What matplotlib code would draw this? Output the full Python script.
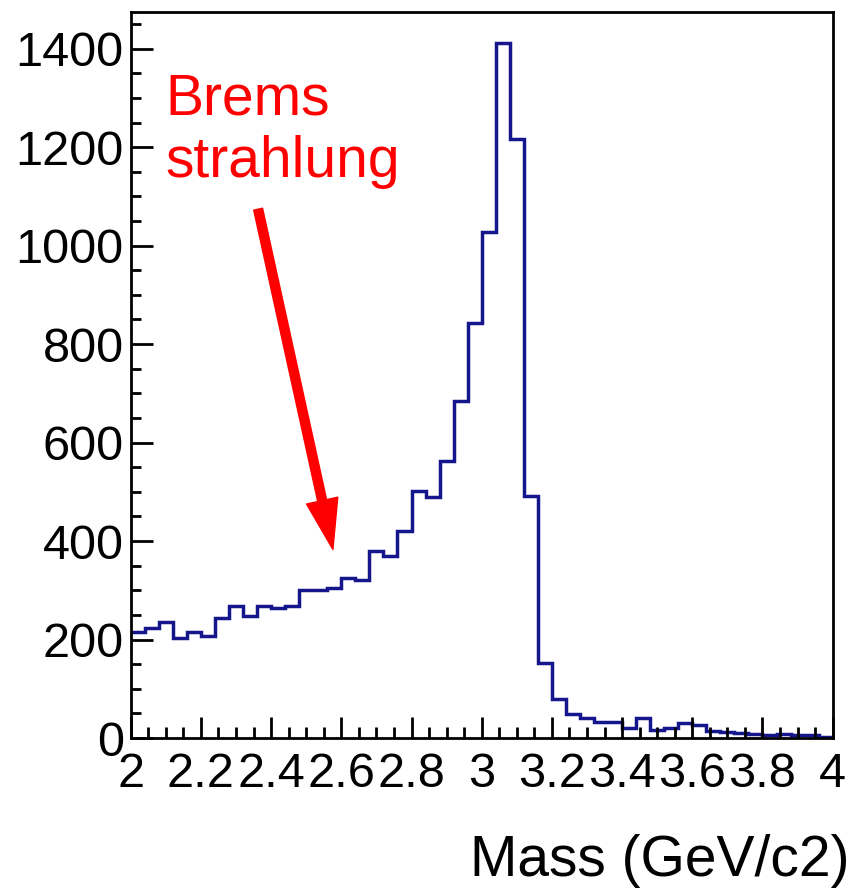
import numpy as np
import matplotlib
matplotlib.use("Agg")
import matplotlib.pyplot as plt
from matplotlib.ticker import MultipleLocator, FormatStrFormatter

plt.rcParams['font.family'] = ['Liberation Sans', 'DejaVu Sans']

# histogram: 50 bins from 2 to 4 GeV/c2
mass_lo = 2.0
mass_hi = 4.0
nbins = 50
counts = [215, 223, 235, 203, 215, 207, 243, 269, 247, 269,
          265, 269, 300, 300, 304, 325, 321, 380, 369, 421,
          501, 489, 563, 685, 842, 1028, 1411, 1216, 491, 152,
          79, 48, 40, 33, 32, 21, 41, 17, 21, 30,
          26, 15, 13, 10, 8, 7, 9, 6, 7, 3]
edges = np.linspace(mass_lo, mass_hi, nbins + 1)

label_text = "Brems\nstrahlung"
xlabel_text = "Mass (GeV/c2)"

fig = plt.figure(figsize=(8.55, 8.88), dpi=100)
ax = fig.add_axes([0.1529, 0.1689, 0.8210, 0.8176])

ax.stairs(counts, edges, baseline=None, color='#16168c', linewidth=2.5)

ax.set_xlim(mass_lo, mass_hi)
ax.set_ylim(0, 1.045 * max(counts))

ax.xaxis.set_major_locator(MultipleLocator(0.2))
ax.xaxis.set_minor_locator(MultipleLocator(0.05))
ax.xaxis.set_major_formatter(FormatStrFormatter('%g'))
ax.yaxis.set_major_locator(MultipleLocator(200))
ax.yaxis.set_minor_locator(MultipleLocator(50))

ax.tick_params(axis='both', which='both', direction='in', width=2,
               color='black', labelsize=35)
ax.tick_params(axis='x', which='major', length=15, pad=10)
ax.tick_params(axis='x', which='minor', length=8)
ax.tick_params(axis='y', which='major', length=16, pad=5)
ax.tick_params(axis='y', which='minor', length=7)
for sp in ax.spines.values():
    sp.set_linewidth(2)

# annotation
ax.text(2.098, 1352, label_text, color='red', fontsize=41,
        ha='left', va='top')
ax.annotate('', xy=(2.576, 383), xytext=(2.363, 1074),
            arrowprops=dict(color='red', width=6.5, headwidth=23,
                            headlength=36, shrink=0))

fig.text(0.994, 0.0135, xlabel_text, fontsize=41, ha='right', va='baseline')

fig.savefig('out.png', dpi=100)
